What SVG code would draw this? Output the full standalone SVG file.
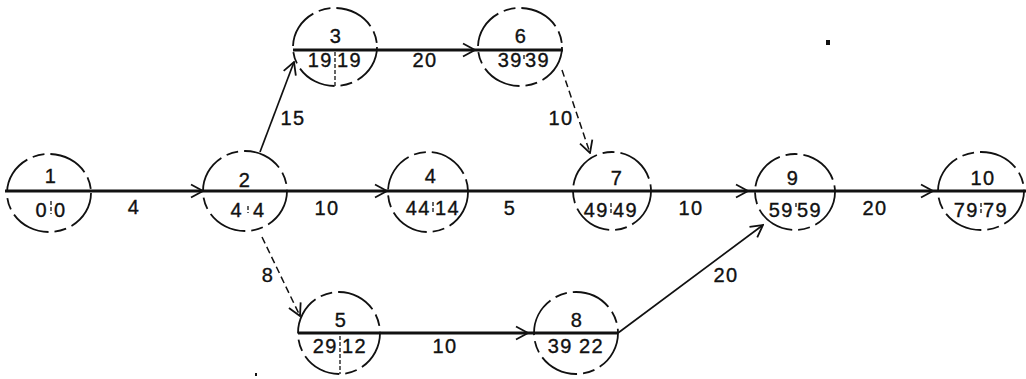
<svg xmlns="http://www.w3.org/2000/svg" width="1026" height="379" viewBox="0 0 1026 379">
<style>
.c{fill:none;stroke:#111;stroke-width:1.8;stroke-dasharray:40 6 12 6}
text{font-family:"Liberation Sans",Arial,sans-serif;font-size:20px;fill:#111;stroke:#111;stroke-width:0.35;letter-spacing:1.5px}
.t{text-anchor:middle}
.te{text-anchor:end}
.ts{text-anchor:start}
.sep{stroke:#111;stroke-width:1.3;stroke-dasharray:4 2}
.thick{fill:none;stroke:#111;stroke-width:3}
.thin{fill:none;stroke:#111;stroke-width:1.7}
.dash{fill:none;stroke:#111;stroke-width:1.5;stroke-dasharray:7 4}
</style>
<defs>
<marker id="ah" markerUnits="userSpaceOnUse" markerWidth="16" markerHeight="16" viewBox="-1 -8 15 16" refX="13" refY="0" orient="auto">
<path d="M1,-6.5 L13,0 L1,6.5" fill="none" stroke="#111" stroke-width="1.8"/>
</marker>
</defs>
<rect width="1026" height="379" fill="#fff"/>
<g id="connectors">
<path class="thick" d="M5,191 L203,191" marker-end="url(#ah)"/>
<path class="thick" d="M203,191 L387,191" marker-end="url(#ah)"/>
<path class="thick" d="M387,191 L572,191"/>
<path class="thick" d="M572,191 L748,191" marker-end="url(#ah)"/>
<path class="thick" d="M748,191 L933,191" marker-end="url(#ah)"/>
<path class="thick" d="M933,191 L1026,191"/>
<path class="thin" d="M260,152 L294,62" marker-end="url(#ah)"/>
<path class="thick" d="M293,50 L475,50" marker-end="url(#ah)"/>
<path class="thick" d="M475,50 L563,50"/>
<path class="dash" d="M562,70 L590,153" marker-end="url(#ah)"/>
<path class="dash" d="M262,237 L300,316" marker-end="url(#ah)"/>
<path class="thick" d="M298,333 L528,333" marker-end="url(#ah)"/>
<path class="thick" d="M528,333 L618,333"/>
<path class="thin" d="M618,333 L763,225" marker-end="url(#ah)"/>
<text class="t" x="134" y="214">4</text>
<text class="t" x="327" y="215">10</text>
<text class="t" x="510" y="215">5</text>
<text class="t" x="691" y="215">10</text>
<text class="t" x="875" y="215">20</text>
<text class="t" x="425" y="67">20</text>
<text class="t" x="293" y="125">15</text>
<text class="t" x="561" y="125">10</text>
<text class="t" x="268" y="282">8</text>
<text class="t" x="445" y="353">10</text>
<text class="t" x="726" y="282">20</text>
</g>
<g id="node1">
<ellipse class="c" cx="49" cy="193" rx="42" ry="39"/>
<text class="t" x="51" y="183">1</text>
<text class="te" x="48" y="217">0</text><line class="sep" x1="51" y1="201" x2="51" y2="214"/><text class="ts" x="54" y="217">0</text>
</g>
<g id="node2">
<ellipse class="c" cx="245" cy="191" rx="42" ry="40"/>
<text class="t" x="245" y="187">2</text>
<text class="te" x="243" y="217">4</text><line class="sep" x1="248" y1="206" x2="248" y2="213"/><text class="ts" x="253" y="217">4</text>
</g>
<g id="node3">
<ellipse class="c" cx="335" cy="47" rx="42" ry="39"/>
<text class="t" x="336" y="43">3</text>
<text class="te" x="333" y="67">19</text><line class="sep" x1="335" y1="52" x2="335" y2="87"/><text class="ts" x="337" y="67">19</text>
</g>
<g id="node6">
<ellipse class="c" cx="520" cy="47" rx="42" ry="39"/>
<text class="t" x="521" y="43">6</text>
<text class="te" x="523" y="67">39</text><line class="sep" x1="524" y1="55" x2="524" y2="60"/><text class="ts" x="525" y="67">39</text>
</g>
<g id="node4">
<ellipse class="c" cx="428" cy="192" rx="40" ry="40"/>
<text class="t" x="431" y="183">4</text>
<text class="te" x="431" y="215">44</text><line class="sep" x1="433" y1="202" x2="433" y2="214"/><text class="ts" x="435" y="215">14</text>
</g>
<g id="node7">
<ellipse class="c" cx="612" cy="191" rx="39" ry="39"/>
<text class="t" x="617" y="185">7</text>
<text class="te" x="609" y="217">49</text><line class="sep" x1="611" y1="203" x2="611" y2="215"/><text class="ts" x="613" y="217">49</text>
</g>
<g id="node9">
<ellipse class="c" cx="795" cy="192" rx="40" ry="38"/>
<text class="t" x="793" y="185">9</text>
<text class="te" x="794" y="217">59</text><line class="sep" x1="796" y1="203" x2="796" y2="208"/><text class="ts" x="797" y="217">59</text>
</g>
<g id="node10">
<ellipse class="c" cx="981" cy="191" rx="43" ry="39"/>
<text class="t" x="983" y="185">10</text>
<text class="te" x="979" y="217">79</text><line class="sep" x1="981" y1="203" x2="981" y2="215"/><text class="ts" x="983" y="217">79</text>
</g>
<g id="node5">
<ellipse class="c" cx="339" cy="333" rx="41" ry="41"/>
<text class="t" x="341" y="327">5</text>
<text class="te" x="338" y="353">29</text><line class="sep" x1="340" y1="336" x2="340" y2="374"/><text class="ts" x="342" y="353">12</text>
</g>
<g id="node8">
<ellipse class="c" cx="576" cy="333" rx="42" ry="41"/>
<text class="t" x="577" y="327">8</text>
<text class="te" x="573" y="353">39</text><text class="ts" x="579" y="353">22</text>
</g>
<rect x="826" y="40" width="4" height="5" fill="#111"/>
<rect x="255" y="373" width="2" height="3" fill="#111"/>
</svg>
